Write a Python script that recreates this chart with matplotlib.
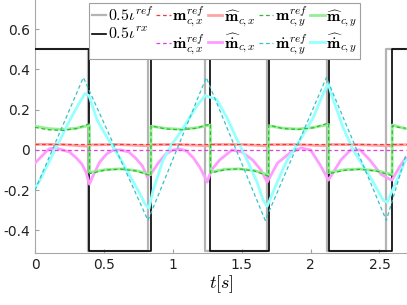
import numpy as np
import matplotlib
matplotlib.use("Agg")
import matplotlib.pyplot as plt
from matplotlib.ticker import FormatStrFormatter

plt.rcParams['mathtext.fontset'] = 'cm'
plt.rcParams['axes.unicode_minus'] = False

# Rechteckwellen (Umschaltzeitpunkte und Pegel)
t_ref = [0.0, 0.387, 0.823, 1.235, 1.684, 2.120, 2.551, 2.69]
t_rx = [0.0, 0.395, 0.841, 1.273, 1.695, 2.131, 2.592, 2.69]
lvl = [0.5, -0.5, 0.5, -0.5, 0.5, -0.5, 0.5, 0.5]

# Referenzen
t_mx_ref = [0.0, 2.69]
mx_ref = [0.03, 0.03]
t_mdx_ref = [0.0, 2.69]
mdx_ref = [0.0, 0.0]
t_mdy_ref = [0.0, 0.351, 0.820, 1.243, 1.671, 2.115, 2.550, 2.69]
mdy_ref = [-0.20, 0.36, -0.35, 0.36, -0.35, 0.36, -0.35, -0.03]

# Schaetzung m_x
t_mx_hat = [0.0, 0.2, 0.39, 0.40, 0.6, 0.84, 0.85, 1.05, 1.27, 1.28, 1.5, 1.69, 1.70, 1.9, 2.13, 2.14, 2.35, 2.59, 2.60, 2.69]
mx_hat = [0.028, 0.027, 0.018, 0.025, 0.027, 0.02, 0.026, 0.027, 0.02, 0.027, 0.027, 0.02, 0.026, 0.027, 0.02, 0.027, 0.026, 0.02, 0.025, 0.026]

# m_y (Referenz gestrichelt, Schaetzung durchgezogen)
t_my = [0.0, 0.10, 0.20, 0.30, 0.395,
        0.396, 0.51, 0.62, 0.73, 0.841,
        0.842, 0.95, 1.06, 1.17, 1.273,
        1.274, 1.38, 1.48, 1.59, 1.695,
        1.696, 1.80, 1.91, 2.02, 2.131,
        2.132, 2.25, 2.36, 2.48, 2.592,
        2.593, 2.64, 2.69]
my_ref = [0.112, 0.100, 0.097, 0.106, 0.130,
          -0.118, -0.100, -0.095, -0.104, -0.128,
          0.120, 0.104, 0.100, 0.108, 0.130,
          -0.115, -0.098, -0.094, -0.104, -0.130,
          0.124, 0.106, 0.102, 0.110, 0.134,
          -0.118, -0.101, -0.096, -0.105, -0.128,
          0.120, 0.112, 0.108]
my_hat = [0.118, 0.106, 0.102, 0.108, 0.122,
          -0.112, -0.098, -0.094, -0.102, -0.122,
          0.118, 0.107, 0.103, 0.110, 0.124,
          -0.110, -0.096, -0.094, -0.102, -0.124,
          0.120, 0.108, 0.104, 0.112, 0.126,
          -0.112, -0.098, -0.095, -0.103, -0.122,
          0.124, 0.115, 0.106]

# Schaetzung dm_x
t_mdx_hat = [0.0, 0.05, 0.10, 0.15, 0.20, 0.25, 0.30, 0.34, 0.37, 0.395,
             0.42, 0.47, 0.52, 0.57, 0.62, 0.68, 0.73, 0.78, 0.815,
             0.85, 0.90, 0.95, 1.00, 1.05, 1.10, 1.15, 1.20, 1.25,
             1.28, 1.34, 1.43, 1.50, 1.58, 1.64, 1.685,
             1.76, 1.85, 1.93, 2.00, 2.07, 2.13,
             2.22, 2.29, 2.36, 2.43, 2.51, 2.56, 2.59, 2.65, 2.69]
mdx_hat = [-0.065, -0.03, 0.005, 0.01, 0.0, -0.01, -0.04, -0.07, -0.11, -0.17,
           -0.13, -0.06, -0.02, 0.0, 0.0, -0.01, -0.04, -0.08, -0.135,
           -0.11, -0.06, -0.02, 0.0, 0.005, -0.005, -0.04, -0.09, -0.16,
           -0.10, -0.05, 0.0, -0.01, -0.05, -0.10, -0.16,
           -0.065, -0.015, 0.01, 0.0, -0.075, -0.15,
           -0.05, 0.0, 0.0, -0.05, -0.12, -0.14, -0.15, -0.08, -0.04]

# Schaetzung dm_y
t_mdy_hat = [0.0, 0.036, 0.109, 0.182, 0.254, 0.327, 0.363, 0.392,
             0.45, 0.508, 0.566, 0.625, 0.69, 0.748, 0.80, 0.828,
             0.857, 0.93, 0.995, 1.053, 1.176, 1.234, 1.28, 1.32,
             1.394, 1.467, 1.539, 1.612, 1.656, 1.685,
             1.758, 1.83, 1.924, 2.019, 2.092, 2.128,
             2.164, 2.237, 2.309, 2.382, 2.455, 2.527, 2.556, 2.614, 2.69]
mdy_hat = [-0.19, -0.15, -0.05, 0.05, 0.15, 0.24, 0.28, 0.27,
           0.15, 0.08, 0.015, -0.05, -0.13, -0.20, -0.27, -0.29,
           -0.20, -0.05, 0.03, 0.085, 0.22, 0.27, 0.26, 0.25,
           0.16, 0.05, -0.05, -0.16, -0.25, -0.28,
           -0.16, -0.05, 0.05, 0.16, 0.28, 0.33,
           0.25, 0.11, 0.0, -0.08, -0.16, -0.25, -0.26, -0.17, -0.05]

fig = plt.figure(figsize=(4.07, 3.05), dpi=100)
ax = fig.add_axes([35 / 407, 52 / 305, 372 / 407, 253 / 305])

ax.plot(t_ref, lvl, drawstyle='steps-post', color='#b4b4b4', lw=1.6, label=r'$0.5\iota^{ref}$', zorder=2)
ax.plot(t_rx, lvl, drawstyle='steps-post', color='black', lw=1.2, label=r'$0.5\iota^{rx}$', zorder=3)

dsh = (3.0, 2.2)
ax.plot(t_mx_ref, mx_ref, '--', dashes=dsh, color='#ee3b3b', lw=0.9, label=r'$\mathbf{m}^{ref}_{c,x}$', zorder=5)
ax.plot(t_mdx_ref, mdx_ref, '--', dashes=dsh, color='#e040e0', lw=0.9, label=r'$\dot{\mathbf{m}}^{ref}_{c,x}$', zorder=5)
ax.plot(t_mx_hat, mx_hat, color='#ffa4a4', lw=2.0, label=r'$\widehat{\mathbf{m}}_{c,x}$', zorder=4)
ax.plot(t_mdx_hat, mdx_hat, color='#ff9cff', lw=2.0, label=r'$\widehat{\dot{\mathbf{m}}}_{c,x}$', zorder=4)
ax.plot(t_my, my_ref, '--', dashes=dsh, color='#2dbb2d', lw=0.9, label=r'$\mathbf{m}^{ref}_{c,y}$', zorder=5)
ax.plot(t_mdy_ref, mdy_ref, '--', dashes=dsh, color='#33c4c4', lw=0.9, label=r'$\dot{\mathbf{m}}^{ref}_{c,y}$', zorder=5)
ax.plot(t_my, my_hat, color='#96ee96', lw=2.0, label=r'$\widehat{\mathbf{m}}_{c,y}$', zorder=4)
ax.plot(t_mdy_hat, mdy_hat, color='#96ffff', lw=2.0, label=r'$\widehat{\dot{\mathbf{m}}}_{c,y}$', zorder=4)

ax.set_xlim(0, 2.7)
ax.set_ylim(-0.512, 0.745)
ax.set_xticks([0, 0.5, 1, 1.5, 2, 2.5])
ax.set_yticks([-0.4, -0.2, 0, 0.2, 0.4, 0.6])
ax.xaxis.set_major_formatter(FormatStrFormatter('%g'))
ax.yaxis.set_major_formatter(FormatStrFormatter('%g'))
ax.tick_params(direction='in', length=3, color='#a0a0a0', labelsize=10, labelcolor='#222222')
for side in ['top', 'right']:
    ax.spines[side].set_visible(False)
for side in ['left', 'bottom']:
    ax.spines[side].set_color('#a8a8a8')
ax.set_xlabel(r'$t[s]$', fontsize=13, labelpad=1)

leg = ax.legend(ncol=5, loc='upper right', bbox_to_anchor=(0.874, 0.988), borderaxespad=0,
                fontsize=11.5, handlelength=0.9, handletextpad=0.1, columnspacing=0.2,
                labelspacing=0.2, borderpad=0.15, fancybox=False, framealpha=1)
leg.get_frame().set_edgecolor('#a0a0a0')
leg.get_frame().set_linewidth(0.8)

fig.savefig('out.png', dpi=100)
